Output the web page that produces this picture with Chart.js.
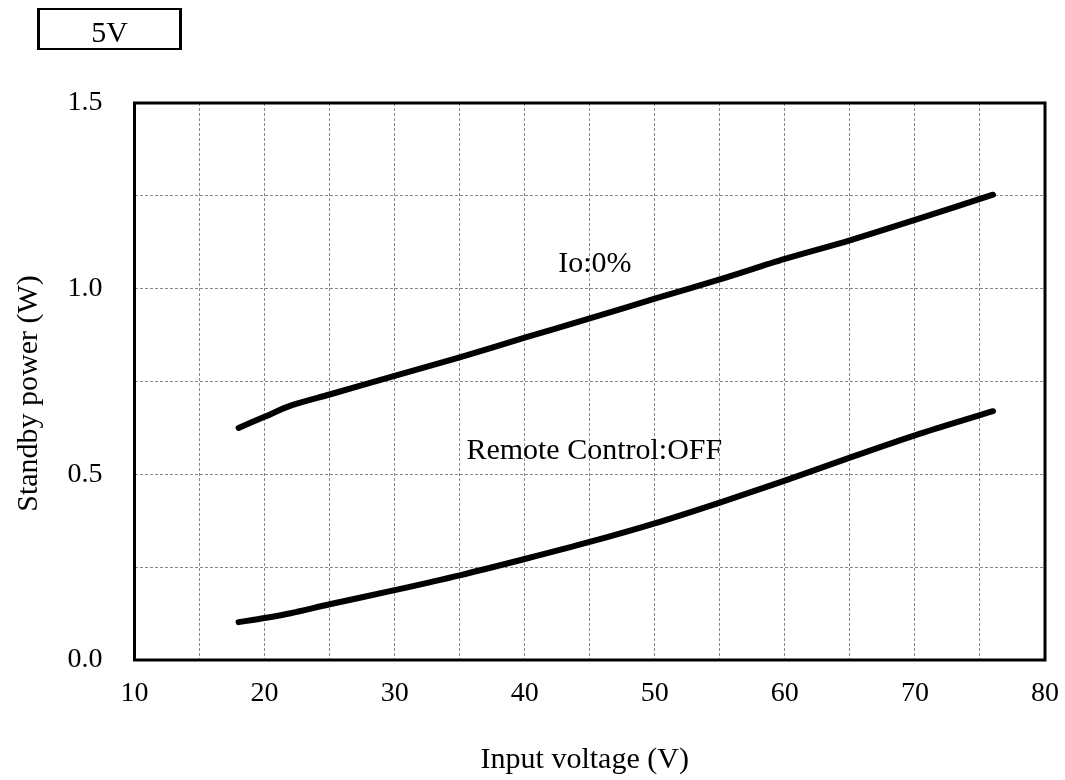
<!DOCTYPE html>
<html>
<head>
<meta charset="utf-8">
<script src="https://cdn.jsdelivr.net/npm/chart.js@4.4.0/dist/chart.umd.min.js"></script>
<style>
  body { margin: 0; background: #fff; }
  #wrap { position: absolute; left: 0; top: 0; width: 1065px; height: 780px; }
  #tag {
    position: absolute; left: 37px; top: 8px; width: 139px; height: 38px;
    border-style: solid; border-color: #000; border-width: 2px 3px;
    font-family: "Liberation Serif", serif; font-size: 30px;
    text-align: center; line-height: 44px; color: #000;
  }
</style>
</head>
<body>
<div id="wrap"><canvas id="myChart" width="1065" height="780"></canvas></div>
<div id="tag">5V</div>
<script>
const voltage = [18, 20, 22, 25, 30, 35, 40, 45, 50, 55, 60, 65, 70, 76];
const noLoad = [0.625, 0.655, 0.685, 0.715, 0.765, 0.815, 0.868, 0.92, 0.973, 1.025, 1.08, 1.13, 1.185, 1.253];
const remoteOff = [0.102, 0.113, 0.126, 0.15, 0.188, 0.228, 0.272, 0.318, 0.368, 0.424, 0.483, 0.545, 0.605, 0.67];
const notes = [
  { text: 'Io:0%', x: 45.4, y: 1.067 },
  { text: 'Remote Control:OFF', x: 45.35, y: 0.562 }
];
const xTitle = 'Input voltage (V)';
const yTitle = 'Standby power (W)';

const ctx = document.getElementById('myChart').getContext('2d');
const fontFam = '"Liberation Serif", "Times New Roman", serif';

const toXY = (ys) => voltage.map((v, i) => ({ x: v, y: ys[i] }));

// frame, curve labels and axis titles
const extras = {
  id: 'extras',
  afterDraw(chart) {
    const c = chart.ctx;
    const a = chart.chartArea;
    c.save();
    c.strokeStyle = '#000';
    c.lineWidth = 3;
    c.strokeRect(a.left, a.top, a.right - a.left, a.bottom - a.top);
    c.fillStyle = '#000';
    c.font = '30px ' + fontFam;
    c.textAlign = 'center';
    c.textBaseline = 'middle';
    notes.forEach((n) => {
      c.fillText(n.text, chart.scales.x.getPixelForValue(n.x), chart.scales.y.getPixelForValue(n.y));
    });
    c.fillText(xTitle, (a.left + a.right) / 2 - 5, 760);
    c.translate(29, (a.top + a.bottom) / 2 + 12);
    c.rotate(-Math.PI / 2);
    c.fillText(yTitle, 0, 0);
    c.restore();
  }
};

const lineStyle = {
  borderColor: '#000',
  borderWidth: 6,
  pointRadius: 0,
  fill: false,
  tension: 0.3,
  borderCapStyle: 'round'
};

let chartInstance = new Chart(ctx, {
  type: 'line',
  data: {
    datasets: [
      Object.assign({ label: 'Io:0%', data: toXY(noLoad) }, lineStyle),
      Object.assign({ label: 'Remote Control:OFF', data: toXY(remoteOff) }, lineStyle)
    ]
  },
  options: {
    responsive: false,
    animation: false,
    layout: { padding: { left: 0, top: 103, right: 20, bottom: 0 } },
    plugins: { legend: { display: false }, tooltip: { enabled: false } },
    scales: {
      x: {
        type: 'linear',
        min: 10, max: 80,
        afterFit: (s) => { s.height = 120; s.paddingRight = 0; s.paddingLeft = 0; },
        border: { display: false, dash: [3, 2] },
        grid: { color: '#888', lineWidth: 1, drawTicks: false },
        ticks: {
          stepSize: 5, padding: 17, color: '#000', maxRotation: 0, autoSkip: false,
          font: { family: fontFam, size: 28 },
          callback: (v) => (v % 10 === 0 ? v : '')
        }
      },
      y: {
        min: 0, max: 1.5,
        afterFit: (s) => { s.width = 134.5; s.paddingTop = 0; s.paddingBottom = 0; },
        border: { display: false, dash: [3, 2] },
        grid: { color: '#888', lineWidth: 1, drawTicks: false },
        ticks: {
          stepSize: 0.25, padding: 32, color: '#000', autoSkip: false,
          font: { family: fontFam, size: 28 },
          callback: (v) => (Math.abs(v * 2 - Math.round(v * 2)) < 1e-6 ? v.toFixed(1) : '')
        }
      }
    }
  },
  plugins: [extras]
});
</script>
</body>
</html>
